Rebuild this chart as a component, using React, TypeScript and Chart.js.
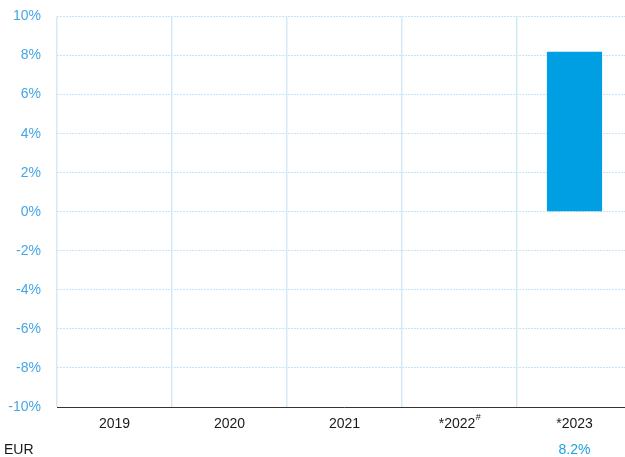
import React, { useEffect, useRef } from "react";
import { Chart, registerables } from "chart.js";

Chart.register(...registerables);

const categories = ["2019", "2020", "2021", "*2022#", "*2023"];
const values: (number | null)[] = [null, null, null, null, 8.2];
const rowLabel = "EUR";
const rowTexts = ["", "", "", "", "8.2%"];
const yMin = -10;
const yMax = 10;
const yStep = 2;

const FONT = "'Liberation Sans', Arial, sans-serif";

const labelsPlugin = {
  id: "customLabels",
  afterDraw(chart: any) {
    const ctx = chart.ctx;
    const x = chart.scales.x;
    ctx.save();
    ctx.textBaseline = "middle";
    categories.forEach((cat, i) => {
      const cx = x.getPixelForValue(i);
      const base = cat.replace("#", "");
      const sup = cat.includes("#") ? "#" : "";
      ctx.font = `14px ${FONT}`;
      const w = ctx.measureText(base).width;
      ctx.font = `9px ${FONT}`;
      const sw = sup ? ctx.measureText(sup).width : 0;
      const total = w + sw;
      ctx.fillStyle = "#1a1a1a";
      ctx.textAlign = "left";
      ctx.font = `14px ${FONT}`;
      ctx.fillText(base, cx - total / 2, 424);
      if (sup) {
        ctx.font = `9px ${FONT}`;
        ctx.fillText(sup, cx - total / 2 + w + 0.5, 418);
      }
    });
    ctx.font = `14px ${FONT}`;
    ctx.textAlign = "left";
    ctx.fillStyle = "#1a1a1a";
    ctx.fillText(rowLabel, 4, 450);
    ctx.textAlign = "center";
    ctx.fillStyle = "#1ea0e0";
    rowTexts.forEach((t, i) => {
      if (t) ctx.fillText(t, x.getPixelForValue(i), 450);
    });
    ctx.restore();
  },
};

export default function App() {
  const ref = useRef<HTMLCanvasElement | null>(null);
  useEffect(() => {
    if (!ref.current) return;
    const chart = new Chart(ref.current, {
      type: "bar",
      data: {
        labels: categories,
        datasets: [
          {
            data: values as any,
            backgroundColor: "#009FE3",
            borderWidth: 0,
            barPercentage: 0.48,
            categoryPercentage: 1,
          },
        ],
      },
      options: {
        animation: false,
        responsive: false,
        devicePixelRatio: 1,
        layout: { padding: { left: 0, top: 16.5, right: 0, bottom: 0 } },
        plugins: { legend: { display: false }, tooltip: { enabled: false } },
        scales: {
          x: {
            grid: {
              color: "#d3eaf9",
              lineWidth: 1.5,
              drawTicks: false,
              offset: true,
            },
            border: { display: true, color: "#333333", width: 1 },
            ticks: { display: false },
            afterFit: (s: any) => {
              s.height = 50;
              s.paddingLeft = 0;
              s.paddingRight = 0;
            },
          },
          y: {
            min: yMin,
            max: yMax,
            grid: { color: "#c6e3f7", lineWidth: 1, drawTicks: false },
            border: { display: false, dash: [2, 1] },
            ticks: {
              stepSize: yStep,
              color: "#45a6e6",
              font: { family: FONT, size: 14 },
              padding: 16,
              callback: (v: any) => `${v}%`,
            },
            afterFit: (s: any) => {
              s.width = 57;
              s.paddingTop = 0;
              s.paddingBottom = 0;
            },
          },
        },
      },
      plugins: [labelsPlugin],
    });
    return () => chart.destroy();
  }, []);
  return (
    <div
      style={{
        position: "fixed",
        left: 0,
        top: 0,
        width: 625,
        height: 457,
        overflow: "hidden",
        background: "#fff",
      }}
    >
      <canvas ref={ref} width={632} height={457} style={{ display: "block" }} />
    </div>
  );
}
